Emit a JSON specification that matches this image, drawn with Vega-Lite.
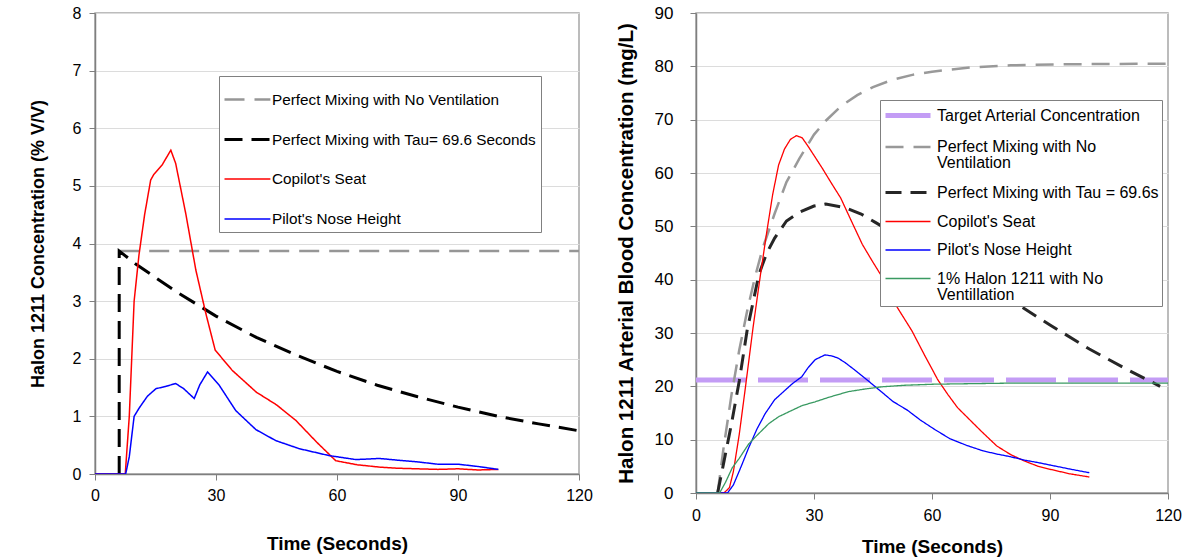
{
  "$schema": "https://vega.github.io/schema/vega-lite/v6.json",
  "padding": {"left": 28, "top": 3, "right": 5, "bottom": 3},
  "bounds": "flush",
  "spacing": 117,
  "config": {
    "font": "Liberation Sans",
    "view": {"stroke": "#a6a6a6", "strokeWidth": 1.5},
    "axis": {"domainColor": "#7f7f7f", "domainWidth": 1.5, "tickColor": "#7f7f7f", "tickSize": 6, "gridColor": "#dcdcdc", "labelColor": "#000000", "titleColor": "#000000", "labelFontSize": 16, "titleFontSize": 18, "titleFontWeight": "bold", "labelFont": "Liberation Sans", "titleFont": "Liberation Sans"},
    "legend": {"labelFont": "Liberation Sans", "labelColor": "#000000", "labelFontSize": 15, "labelLimit": 400},
    "style": {"guide-label": {"lineHeight": 16}}
  },
  "resolve": {
    "scale": {"color": "independent", "strokeDash": "independent", "strokeWidth": "independent"},
    "legend": {"color": "independent", "strokeDash": "independent", "strokeWidth": "independent"}
  },
  "datasets": {
    "left": [
      {"s": "Perfect Mixing with No Ventilation", "t": 6, "v": 3.87},
      {"s": "Perfect Mixing with No Ventilation", "t": 120, "v": 3.87},
      {"s": "Perfect Mixing with Tau= 69.6 Seconds", "t": 6, "v": 0},
      {"s": "Perfect Mixing with Tau= 69.6 Seconds", "t": 6, "v": 3.87},
      {"s": "Perfect Mixing with Tau= 69.6 Seconds", "t": 10, "v": 3.65},
      {"s": "Perfect Mixing with Tau= 69.6 Seconds", "t": 20, "v": 3.17},
      {"s": "Perfect Mixing with Tau= 69.6 Seconds", "t": 30, "v": 2.74},
      {"s": "Perfect Mixing with Tau= 69.6 Seconds", "t": 40, "v": 2.37},
      {"s": "Perfect Mixing with Tau= 69.6 Seconds", "t": 50, "v": 2.06},
      {"s": "Perfect Mixing with Tau= 69.6 Seconds", "t": 60, "v": 1.78},
      {"s": "Perfect Mixing with Tau= 69.6 Seconds", "t": 70, "v": 1.54},
      {"s": "Perfect Mixing with Tau= 69.6 Seconds", "t": 80, "v": 1.34},
      {"s": "Perfect Mixing with Tau= 69.6 Seconds", "t": 90, "v": 1.16},
      {"s": "Perfect Mixing with Tau= 69.6 Seconds", "t": 100, "v": 1.0},
      {"s": "Perfect Mixing with Tau= 69.6 Seconds", "t": 110, "v": 0.87},
      {"s": "Perfect Mixing with Tau= 69.6 Seconds", "t": 120, "v": 0.75},
      {"s": "Copilot's Seat", "t": 0, "v": 0},
      {"s": "Copilot's Seat", "t": 7.5, "v": 0},
      {"s": "Copilot's Seat", "t": 8.5, "v": 1.0},
      {"s": "Copilot's Seat", "t": 9.7, "v": 3.0},
      {"s": "Copilot's Seat", "t": 10.9, "v": 3.8},
      {"s": "Copilot's Seat", "t": 12.3, "v": 4.5},
      {"s": "Copilot's Seat", "t": 13.8, "v": 5.1},
      {"s": "Copilot's Seat", "t": 14.6, "v": 5.2},
      {"s": "Copilot's Seat", "t": 16.7, "v": 5.37},
      {"s": "Copilot's Seat", "t": 18.8, "v": 5.62},
      {"s": "Copilot's Seat", "t": 20, "v": 5.39},
      {"s": "Copilot's Seat", "t": 22.5, "v": 4.52},
      {"s": "Copilot's Seat", "t": 25, "v": 3.54},
      {"s": "Copilot's Seat", "t": 27.5, "v": 2.78},
      {"s": "Copilot's Seat", "t": 29.8, "v": 2.15},
      {"s": "Copilot's Seat", "t": 34, "v": 1.8},
      {"s": "Copilot's Seat", "t": 40, "v": 1.42},
      {"s": "Copilot's Seat", "t": 45, "v": 1.2},
      {"s": "Copilot's Seat", "t": 49.8, "v": 0.93},
      {"s": "Copilot's Seat", "t": 55, "v": 0.55},
      {"s": "Copilot's Seat", "t": 59.7, "v": 0.23},
      {"s": "Copilot's Seat", "t": 65, "v": 0.16},
      {"s": "Copilot's Seat", "t": 70.5, "v": 0.12},
      {"s": "Copilot's Seat", "t": 75, "v": 0.1},
      {"s": "Copilot's Seat", "t": 80, "v": 0.09},
      {"s": "Copilot's Seat", "t": 85, "v": 0.08},
      {"s": "Copilot's Seat", "t": 90, "v": 0.09},
      {"s": "Copilot's Seat", "t": 95, "v": 0.07},
      {"s": "Copilot's Seat", "t": 100, "v": 0.08},
      {"s": "Pilot's Nose Height", "t": 0, "v": 0},
      {"s": "Pilot's Nose Height", "t": 7.6, "v": 0},
      {"s": "Pilot's Nose Height", "t": 8.5, "v": 0.3},
      {"s": "Pilot's Nose Height", "t": 9.7, "v": 1.0},
      {"s": "Pilot's Nose Height", "t": 11, "v": 1.15},
      {"s": "Pilot's Nose Height", "t": 13, "v": 1.35},
      {"s": "Pilot's Nose Height", "t": 15.1, "v": 1.48},
      {"s": "Pilot's Nose Height", "t": 17.5, "v": 1.52},
      {"s": "Pilot's Nose Height", "t": 20, "v": 1.57},
      {"s": "Pilot's Nose Height", "t": 22, "v": 1.48},
      {"s": "Pilot's Nose Height", "t": 24.6, "v": 1.31},
      {"s": "Pilot's Nose Height", "t": 26, "v": 1.55},
      {"s": "Pilot's Nose Height", "t": 27.9, "v": 1.77},
      {"s": "Pilot's Nose Height", "t": 30.8, "v": 1.54},
      {"s": "Pilot's Nose Height", "t": 34.9, "v": 1.1},
      {"s": "Pilot's Nose Height", "t": 39.9, "v": 0.77},
      {"s": "Pilot's Nose Height", "t": 44.8, "v": 0.58},
      {"s": "Pilot's Nose Height", "t": 50.6, "v": 0.44},
      {"s": "Pilot's Nose Height", "t": 58, "v": 0.32},
      {"s": "Pilot's Nose Height", "t": 64.7, "v": 0.25},
      {"s": "Pilot's Nose Height", "t": 70.5, "v": 0.27},
      {"s": "Pilot's Nose Height", "t": 75, "v": 0.24},
      {"s": "Pilot's Nose Height", "t": 80, "v": 0.21},
      {"s": "Pilot's Nose Height", "t": 85, "v": 0.17},
      {"s": "Pilot's Nose Height", "t": 90, "v": 0.17},
      {"s": "Pilot's Nose Height", "t": 95, "v": 0.13},
      {"s": "Pilot's Nose Height", "t": 100, "v": 0.08}
    ],
    "right": [
      {"s": "Target Arterial Concentration", "t": 0, "v": 21.2},
      {"s": "Target Arterial Concentration", "t": 120, "v": 21.2},
      {"s": "Perfect Mixing with No Ventilation", "t": 5.5, "v": 0},
      {"s": "Perfect Mixing with No Ventilation", "t": 7, "v": 8.4},
      {"s": "Perfect Mixing with No Ventilation", "t": 9, "v": 18.3},
      {"s": "Perfect Mixing with No Ventilation", "t": 11, "v": 26.8},
      {"s": "Perfect Mixing with No Ventilation", "t": 13, "v": 34.1},
      {"s": "Perfect Mixing with No Ventilation", "t": 15, "v": 40.5},
      {"s": "Perfect Mixing with No Ventilation", "t": 17, "v": 46},
      {"s": "Perfect Mixing with No Ventilation", "t": 20, "v": 52.4},
      {"s": "Perfect Mixing with No Ventilation", "t": 23, "v": 58.3},
      {"s": "Perfect Mixing with No Ventilation", "t": 26.2, "v": 62.6},
      {"s": "Perfect Mixing with No Ventilation", "t": 30, "v": 67.2},
      {"s": "Perfect Mixing with No Ventilation", "t": 33, "v": 69.8},
      {"s": "Perfect Mixing with No Ventilation", "t": 37, "v": 72.6},
      {"s": "Perfect Mixing with No Ventilation", "t": 41, "v": 74.6},
      {"s": "Perfect Mixing with No Ventilation", "t": 45, "v": 76.1},
      {"s": "Perfect Mixing with No Ventilation", "t": 50, "v": 77.5},
      {"s": "Perfect Mixing with No Ventilation", "t": 55, "v": 78.4},
      {"s": "Perfect Mixing with No Ventilation", "t": 60, "v": 79.0},
      {"s": "Perfect Mixing with No Ventilation", "t": 70, "v": 79.8},
      {"s": "Perfect Mixing with No Ventilation", "t": 80, "v": 80.2},
      {"s": "Perfect Mixing with No Ventilation", "t": 95, "v": 80.4},
      {"s": "Perfect Mixing with No Ventilation", "t": 120, "v": 80.5},
      {"s": "Perfect Mixing with Tau = 69.6s", "t": 5.5, "v": 0},
      {"s": "Perfect Mixing with Tau = 69.6s", "t": 7, "v": 5.5},
      {"s": "Perfect Mixing with Tau = 69.6s", "t": 9, "v": 12.9},
      {"s": "Perfect Mixing with Tau = 69.6s", "t": 11, "v": 21},
      {"s": "Perfect Mixing with Tau = 69.6s", "t": 13, "v": 30.5},
      {"s": "Perfect Mixing with Tau = 69.6s", "t": 16, "v": 41},
      {"s": "Perfect Mixing with Tau = 69.6s", "t": 18, "v": 45},
      {"s": "Perfect Mixing with Tau = 69.6s", "t": 20, "v": 47.8},
      {"s": "Perfect Mixing with Tau = 69.6s", "t": 23, "v": 51},
      {"s": "Perfect Mixing with Tau = 69.6s", "t": 26.2, "v": 52.6},
      {"s": "Perfect Mixing with Tau = 69.6s", "t": 30, "v": 53.8},
      {"s": "Perfect Mixing with Tau = 69.6s", "t": 33, "v": 54.2},
      {"s": "Perfect Mixing with Tau = 69.6s", "t": 38, "v": 53.5},
      {"s": "Perfect Mixing with Tau = 69.6s", "t": 42, "v": 52.3},
      {"s": "Perfect Mixing with Tau = 69.6s", "t": 45.7, "v": 50.7},
      {"s": "Perfect Mixing with Tau = 69.6s", "t": 50, "v": 48.8},
      {"s": "Perfect Mixing with Tau = 69.6s", "t": 60, "v": 44.6},
      {"s": "Perfect Mixing with Tau = 69.6s", "t": 70, "v": 40.3},
      {"s": "Perfect Mixing with Tau = 69.6s", "t": 80, "v": 36.2},
      {"s": "Perfect Mixing with Tau = 69.6s", "t": 90, "v": 31.5},
      {"s": "Perfect Mixing with Tau = 69.6s", "t": 100, "v": 27},
      {"s": "Perfect Mixing with Tau = 69.6s", "t": 110, "v": 23},
      {"s": "Perfect Mixing with Tau = 69.6s", "t": 118, "v": 20},
      {"s": "Copilot's Seat", "t": 0, "v": 0},
      {"s": "Copilot's Seat", "t": 7.1, "v": 0},
      {"s": "Copilot's Seat", "t": 8.5, "v": 1},
      {"s": "Copilot's Seat", "t": 9.5, "v": 4},
      {"s": "Copilot's Seat", "t": 11, "v": 11},
      {"s": "Copilot's Seat", "t": 12.6, "v": 20},
      {"s": "Copilot's Seat", "t": 14.5, "v": 31},
      {"s": "Copilot's Seat", "t": 16.4, "v": 41},
      {"s": "Copilot's Seat", "t": 18, "v": 49},
      {"s": "Copilot's Seat", "t": 19.5, "v": 56},
      {"s": "Copilot's Seat", "t": 21, "v": 61.5},
      {"s": "Copilot's Seat", "t": 22.5, "v": 64.5},
      {"s": "Copilot's Seat", "t": 24, "v": 66.3},
      {"s": "Copilot's Seat", "t": 25.5, "v": 67},
      {"s": "Copilot's Seat", "t": 27, "v": 66.6},
      {"s": "Copilot's Seat", "t": 28.5, "v": 65},
      {"s": "Copilot's Seat", "t": 30, "v": 63.3},
      {"s": "Copilot's Seat", "t": 32.1, "v": 60.9},
      {"s": "Copilot's Seat", "t": 34.5, "v": 58},
      {"s": "Copilot's Seat", "t": 36.8, "v": 55.3},
      {"s": "Copilot's Seat", "t": 39.5, "v": 51},
      {"s": "Copilot's Seat", "t": 42.3, "v": 46.6},
      {"s": "Copilot's Seat", "t": 44.8, "v": 43.5},
      {"s": "Copilot's Seat", "t": 47.4, "v": 40.4},
      {"s": "Copilot's Seat", "t": 51, "v": 35},
      {"s": "Copilot's Seat", "t": 54.9, "v": 30.4},
      {"s": "Copilot's Seat", "t": 58, "v": 26},
      {"s": "Copilot's Seat", "t": 61.5, "v": 21.2},
      {"s": "Copilot's Seat", "t": 64, "v": 18.5},
      {"s": "Copilot's Seat", "t": 66.5, "v": 16},
      {"s": "Copilot's Seat", "t": 69.5, "v": 13.8},
      {"s": "Copilot's Seat", "t": 72.5, "v": 11.6},
      {"s": "Copilot's Seat", "t": 76.5, "v": 8.8},
      {"s": "Copilot's Seat", "t": 80, "v": 7.2},
      {"s": "Copilot's Seat", "t": 83.5, "v": 6},
      {"s": "Copilot's Seat", "t": 87, "v": 5},
      {"s": "Copilot's Seat", "t": 90.3, "v": 4.4},
      {"s": "Copilot's Seat", "t": 95, "v": 3.6},
      {"s": "Copilot's Seat", "t": 100, "v": 3.0},
      {"s": "Pilot's Nose Height", "t": 0, "v": 0},
      {"s": "Pilot's Nose Height", "t": 8, "v": 0},
      {"s": "Pilot's Nose Height", "t": 9.5, "v": 1.5},
      {"s": "Pilot's Nose Height", "t": 11.5, "v": 5},
      {"s": "Pilot's Nose Height", "t": 13.4, "v": 8.5},
      {"s": "Pilot's Nose Height", "t": 15.5, "v": 12},
      {"s": "Pilot's Nose Height", "t": 17.6, "v": 14.9},
      {"s": "Pilot's Nose Height", "t": 20, "v": 17.5},
      {"s": "Pilot's Nose Height", "t": 22.7, "v": 19.3},
      {"s": "Pilot's Nose Height", "t": 24.5, "v": 20.5},
      {"s": "Pilot's Nose Height", "t": 26.9, "v": 21.8},
      {"s": "Pilot's Nose Height", "t": 28.5, "v": 23.5},
      {"s": "Pilot's Nose Height", "t": 30.3, "v": 25},
      {"s": "Pilot's Nose Height", "t": 32.8, "v": 25.9},
      {"s": "Pilot's Nose Height", "t": 34.5, "v": 25.7},
      {"s": "Pilot's Nose Height", "t": 36.1, "v": 25.3},
      {"s": "Pilot's Nose Height", "t": 38, "v": 24.4},
      {"s": "Pilot's Nose Height", "t": 40.3, "v": 23.1},
      {"s": "Pilot's Nose Height", "t": 43.5, "v": 21.2},
      {"s": "Pilot's Nose Height", "t": 47.1, "v": 19},
      {"s": "Pilot's Nose Height", "t": 50, "v": 17.2},
      {"s": "Pilot's Nose Height", "t": 53.8, "v": 15.5},
      {"s": "Pilot's Nose Height", "t": 57, "v": 13.7},
      {"s": "Pilot's Nose Height", "t": 60.5, "v": 12},
      {"s": "Pilot's Nose Height", "t": 64.5, "v": 10.2},
      {"s": "Pilot's Nose Height", "t": 68.9, "v": 8.9},
      {"s": "Pilot's Nose Height", "t": 73, "v": 7.9},
      {"s": "Pilot's Nose Height", "t": 76.5, "v": 7.3},
      {"s": "Pilot's Nose Height", "t": 80, "v": 6.8},
      {"s": "Pilot's Nose Height", "t": 83.2, "v": 6.2},
      {"s": "Pilot's Nose Height", "t": 87, "v": 5.7},
      {"s": "Pilot's Nose Height", "t": 90.3, "v": 5.2},
      {"s": "Pilot's Nose Height", "t": 95, "v": 4.5},
      {"s": "Pilot's Nose Height", "t": 100, "v": 3.8},
      {"s": "1% Halon 1211 with No Ventillation", "t": 0, "v": 0},
      {"s": "1% Halon 1211 with No Ventillation", "t": 6, "v": 0},
      {"s": "1% Halon 1211 with No Ventillation", "t": 7.5, "v": 2},
      {"s": "1% Halon 1211 with No Ventillation", "t": 9.2, "v": 4.7},
      {"s": "1% Halon 1211 with No Ventillation", "t": 11, "v": 6.5},
      {"s": "1% Halon 1211 with No Ventillation", "t": 13.4, "v": 9.2},
      {"s": "1% Halon 1211 with No Ventillation", "t": 15.5, "v": 10.8},
      {"s": "1% Halon 1211 with No Ventillation", "t": 18.5, "v": 13},
      {"s": "1% Halon 1211 with No Ventillation", "t": 21, "v": 14.3},
      {"s": "1% Halon 1211 with No Ventillation", "t": 24.4, "v": 15.5},
      {"s": "1% Halon 1211 with No Ventillation", "t": 27, "v": 16.4},
      {"s": "1% Halon 1211 with No Ventillation", "t": 30.3, "v": 17.1},
      {"s": "1% Halon 1211 with No Ventillation", "t": 34, "v": 18},
      {"s": "1% Halon 1211 with No Ventillation", "t": 38.7, "v": 19},
      {"s": "1% Halon 1211 with No Ventillation", "t": 43, "v": 19.5},
      {"s": "1% Halon 1211 with No Ventillation", "t": 47.1, "v": 19.9},
      {"s": "1% Halon 1211 with No Ventillation", "t": 53, "v": 20.2},
      {"s": "1% Halon 1211 with No Ventillation", "t": 60.5, "v": 20.4},
      {"s": "1% Halon 1211 with No Ventillation", "t": 70, "v": 20.5},
      {"s": "1% Halon 1211 with No Ventillation", "t": 80, "v": 20.6},
      {"s": "1% Halon 1211 with No Ventillation", "t": 100, "v": 20.6},
      {"s": "1% Halon 1211 with No Ventillation", "t": 120, "v": 20.6}
    ]
  },
  "hconcat": [
    {
      "width": 484,
      "height": 461,
      "data": {"name": "left"},
      "mark": {"type": "line", "clip": true},
      "encoding": {
        "x": {"field": "t", "type": "quantitative", "scale": {"domain": [0, 120], "nice": false}, "axis": {"values": [0, 30, 60, 90, 120], "grid": false, "labelFlush": false, "labelPadding": 7, "title": "Time (Seconds)", "titleFontSize": 19, "titlePadding": 31}},
        "y": {"field": "v", "type": "quantitative", "scale": {"domain": [0, 8], "nice": false}, "axis": {"values": [0, 1, 2, 3, 4, 5, 6, 7, 8], "labelPadding": 8, "title": "Halon 1211 Concentration  (% V/V)", "titlePadding": 25}},
        "color": {"field": "s", "type": "nominal",
          "scale": {"domain": ["Perfect Mixing with No Ventilation", "Perfect Mixing with Tau= 69.6 Seconds", "Copilot's Seat", "Pilot's Nose Height"], "range": ["#969696", "#000000", "#ff0000", "#0000ff"]},
          "legend": {"orient": "none", "legendX": 124, "legendY": 63, "title": null, "symbolType": "M-1,0H1.55", "symbolSize": 1296, "labelOffset": 10, "labelFontSize": 15.3, "rowPadding": 12, "padding": 4, "strokeColor": "#808080", "fillColor": "#ffffff"}},
        "strokeDash": {"field": "s", "type": "nominal",
          "scale": {"domain": ["Perfect Mixing with No Ventilation", "Perfect Mixing with Tau= 69.6 Seconds", "Copilot's Seat", "Pilot's Nose Height"], "range": [[20, 10], [18, 9], [1, 0], [1, 0]]}},
        "strokeWidth": {"field": "s", "type": "nominal",
          "scale": {"type": "ordinal", "domain": ["Perfect Mixing with No Ventilation", "Perfect Mixing with Tau= 69.6 Seconds", "Copilot's Seat", "Pilot's Nose Height"], "range": [2.5, 3, 1.5, 1.5]}}
      }
    },
    {
      "width": 472,
      "height": 480,
      "data": {"name": "right"},
      "mark": {"type": "line", "clip": true},
      "encoding": {
        "x": {"field": "t", "type": "quantitative", "scale": {"domain": [0, 120], "nice": false}, "axis": {"values": [0, 30, 60, 90, 120], "grid": false, "labelFlush": false, "labelPadding": 8, "title": "Time (Seconds)", "titleFontSize": 19, "titlePadding": 14}},
        "y": {"field": "v", "type": "quantitative", "scale": {"domain": [0, 90], "nice": false}, "axis": {"values": [0, 10, 20, 30, 40, 50, 60, 70, 80, 90], "labelPadding": 17, "labelFontSize": 17, "title": "Halon 1211 Arterial Blood Concentration  (mg/L)", "titleFontSize": 20.5, "titlePadding": 18}},
        "color": {"field": "s", "type": "nominal",
          "scale": {"domain": ["Target Arterial Concentration", "Perfect Mixing with No Ventilation", "Perfect Mixing with Tau = 69.6s", "Copilot's Seat", "Pilot's Nose Height", "1% Halon 1211 with No Ventillation"], "range": ["#c39cf5", "#999999", "#262626", "#ff0000", "#0000ff", "#3a9a62"]},
          "legend": {"orient": "none", "legendX": 184, "legendY": 87, "title": null, "symbolType": "M-1,0H3.5", "symbolSize": 400, "labelOffset": 29, "labelFontSize": 16, "rowPadding": 9.5, "padding": 3, "strokeColor": "#808080", "fillColor": "#ffffff",
            "labelExpr": "datum.label == 'Perfect Mixing with No Ventilation' ? ['Perfect Mixing with No', 'Ventilation'] : datum.label == '1% Halon 1211 with No Ventillation' ? ['1% Halon 1211 with No', 'Ventillation'] : datum.label"}},
        "strokeDash": {"field": "s", "type": "nominal",
          "scale": {"domain": ["Target Arterial Concentration", "Perfect Mixing with No Ventilation", "Perfect Mixing with Tau = 69.6s", "Copilot's Seat", "Pilot's Nose Height", "1% Halon 1211 with No Ventillation"], "range": [[50, 12], [18, 10], [16, 9], [1, 0], [1, 0], [1, 0]]}},
        "strokeWidth": {"field": "s", "type": "nominal",
          "scale": {"type": "ordinal", "domain": ["Target Arterial Concentration", "Perfect Mixing with No Ventilation", "Perfect Mixing with Tau = 69.6s", "Copilot's Seat", "Pilot's Nose Height", "1% Halon 1211 with No Ventillation"], "range": [5, 2.5, 3, 1.3, 1.3, 1.3]}}
      }
    }
  ]
}
